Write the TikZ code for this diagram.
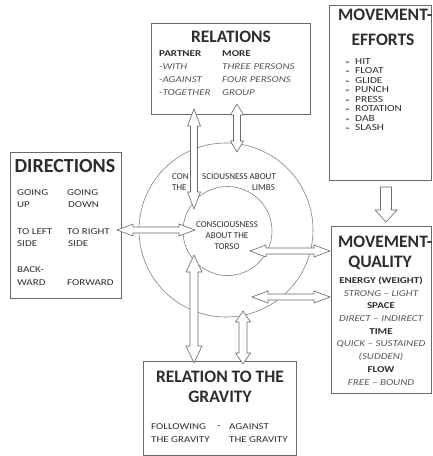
\documentclass[tikz,border=0pt]{standalone}
\usepackage{fontspec}
\setmainfont{Carlito}
\newfontfamily\bodyfont[FakeStretch=1.22]{Carlito}
\newfontfamily\symfont{DejaVu Sans}
\usetikzlibrary{calc}

\definecolor{linegray}{RGB}{105,105,105}
\definecolor{inkgray}{RGB}{45,45,45}
\definecolor{softgray}{RGB}{85,85,85}

\tikzset{
  box/.style={draw=linegray, line width=0.9pt},
  ring/.style={draw=linegray!85, line width=0.6pt},
  head/.style={font=\fontsize{17.5}{19}\selectfont\bfseries, text=inkgray, inner sep=0pt},
  word/.style={font=\bodyfont\fontsize{9}{10}\selectfont, text=inkgray, inner sep=0pt, anchor=west},
  bword/.style={word, font=\bodyfont\fontsize{9}{10}\selectfont\bfseries},
  iword/.style={word, font=\bodyfont\fontsize{9}{10}\selectfont\itshape, text=softgray},
  ringword/.style={word, font=\fontsize{9}{10}\selectfont},
  blockarrow/.style={draw=linegray, fill=white, line width=0.6pt, line join=miter},
}

% hollow arrows: from, to, shaft half width, head half width, head length
\newcommand{\twoway}[5]{%
  \draw[blockarrow] let \p1=(#1), \p2=(#2), \n1={atan2(\y2-\y1,\x2-\x1)}, \n2={veclen(\x2-\x1,\y2-\y1)} in
    {[shift={(\p1)}, rotate=\n1]
    (0pt,0pt) -- (#5,#4) -- (#5,#3) -- ({\n2-#5},#3) -- ({\n2-#5},#4) -- (\n2,0pt)
    -- ({\n2-#5},-#4) -- ({\n2-#5},-#3) -- (#5,-#3) -- (#5,-#4) -- cycle};
}
\newcommand{\oneway}[5]{%
  \draw[blockarrow] let \p1=(#1), \p2=(#2), \n1={atan2(\y2-\y1,\x2-\x1)}, \n2={veclen(\x2-\x1,\y2-\y1)} in
    {[shift={(\p1)}, rotate=\n1]
    (0pt,#3) -- ({\n2-#5},#3) -- ({\n2-#5},#4) -- (\n2,0pt)
    -- ({\n2-#5},-#4) -- ({\n2-#5},-#3) -- (0pt,-#3) -- cycle};
}

\begin{document}
\begin{tikzpicture}[x=1pt, y=-1pt]
\useasboundingbox (0,0) rectangle (432,456);

% boxes and rings
\draw[box] (151,23) rectangle (310,114);
\draw[box] (329,5) rectangle (431,180);
\draw[box] (10,152) rectangle (121,298);
\draw[box] (331,226) rectangle (431,393);
\draw[box] (143,361) rectangle (296,455);
\draw[ring] (226,230) circle (87);
\draw[ring] (227.5,231) circle (44.5);

% relations
\node[head] (relhead) at (231,37) {RELATIONS};
\node[bword] (partner) at (159,54) {PARTNER};
\node[bword] (more) at (222,54) {MORE};
\node[iword] (with) at (159,67) {-WITH};
\node[iword] (against) at (159,80) {-AGAINST};
\node[iword] (together) at (159,93) {-TOGETHER};
\node[iword] (three) at (222,67) {THREE PERSONS};
\node[iword] (four) at (222,80) {FOUR PERSONS};
\node[iword] (group) at (222,93) {GROUP};

% movement efforts
\node[head, anchor=west] (effhead) at (338,15) {MOVEMENT-};
\node[head] (effhead2) at (383,40) {EFFORTS};
\foreach \eff [count=\i] in {HIT, FLOAT, GLIDE, PUNCH, PRESS, ROTATION, DAB, SLASH}
  \node[word, font=\bodyfont\fontsize{9.3}{10}\selectfont] (eff\i) at (345,52+9.5*\i) {{\symfont\fontsize{6}{7}\selectfont ➢}\hspace{5pt}\eff};

% directions
\node[head, font=\fontsize{20}{22}\selectfont\bfseries] (dirhead) at (65,166) {DIRECTIONS};
\node[word] (goup) at (17,193) {GOING};
\node[word] (up) at (17,205) {UP};
\node[word] (godown) at (67,193) {GOING};
\node[word] (down) at (68,205) {DOWN};
\node[word] (toleft) at (17,232) {TO LEFT};
\node[word] (lside) at (17,244) {SIDE};
\node[word] (toright) at (67,232) {TO RIGHT};
\node[word] (rside) at (68,244) {SIDE};
\node[word] (back) at (17,270) {BACK-};
\node[word] (ward) at (17,283) {WARD};
\node[word] (forward) at (67,283) {FORWARD};

% rings
\node[ringword] (con) at (172,177) {CON};
\node[ringword] (scious) at (202,177) {SCIOUSNESS ABOUT};
\node[ringword] (the) at (172,188) {THE};
\node[ringword] (limbs) at (252,188) {LIMBS};
\node[ringword, anchor=center] (torso1) at (227,225) {CONSCIOUSNESS};
\node[ringword, anchor=center] (torso2) at (227,236) {ABOUT THE};
\node[ringword, anchor=center] (torso3) at (227,247) {TORSO};

% movement quality
\node[head, anchor=west] (qualhead) at (338,242) {MOVEMENT-};
\node[head] (qualhead2) at (380,263) {QUALITY};
\node[bword, anchor=center] (energy) at (381,281) {ENERGY (WEIGHT)};
\node[iword, anchor=center] (strong) at (381,293.5) {STRONG – LIGHT};
\node[bword, anchor=center] (space) at (381,306) {SPACE};
\node[iword, anchor=center] (direct) at (381,319) {DIRECT – INDIRECT};
\node[bword, anchor=center] (time) at (381,332) {TIME};
\node[iword, anchor=center] (quick) at (381,344.5) {QUICK – SUSTAINED};
\node[iword, anchor=center] (sudden) at (381,357) {(SUDDEN)};
\node[bword, anchor=center] (flow) at (381,370) {FLOW};
\node[iword, anchor=center] (free) at (381,383) {FREE – BOUND};

% gravity
\node[head] (gravhead) at (220,377) {RELATION TO THE};
\node[head] (gravhead2) at (220,397) {GRAVITY};
\node[word] (following) at (151,427) {FOLLOWING};
\node[word] (dash) at (217,427) {-};
\node[word] (against2) at (229,427) {AGAINST};
\node[word] (thegrav1) at (151,440) {THE GRAVITY};
\node[word] (thegrav2) at (229,440) {THE GRAVITY};

% arrow ends
\coordinate (a1top) at (194,109);
\coordinate (a1bot) at (194,209);
\coordinate (a2top) at (237,104);
\coordinate (a2bot) at (237,152);
\coordinate (a3l) at (117,230);
\coordinate (a3r) at (195,230);
\coordinate (a4l) at (250,251);
\coordinate (a4r) at (330,251);
\coordinate (a5l) at (252,297);
\coordinate (a5r) at (330,297);
\coordinate (a6top) at (194,255);
\coordinate (a6bot) at (194,363);
\coordinate (a7top) at (243,311);
\coordinate (a7bot) at (243,364);
\coordinate (a8top) at (386,187);
\coordinate (a8bot) at (386,222);

\twoway{a1top}{a1bot}{3.5pt}{6.5pt}{17pt}
\twoway{a2top}{a2bot}{3.5pt}{6.5pt}{11pt}
\twoway{a3l}{a3r}{3pt}{6pt}{16pt}
\twoway{a4l}{a4r}{3pt}{6pt}{16pt}
\twoway{a5l}{a5r}{3pt}{6pt}{16pt}
\twoway{a6top}{a6bot}{4pt}{8pt}{17pt}
\twoway{a7top}{a7bot}{4pt}{7.5pt}{11pt}
\oneway{a8top}{a8bot}{5.5pt}{11pt}{12pt}
\end{tikzpicture}
\end{document}
